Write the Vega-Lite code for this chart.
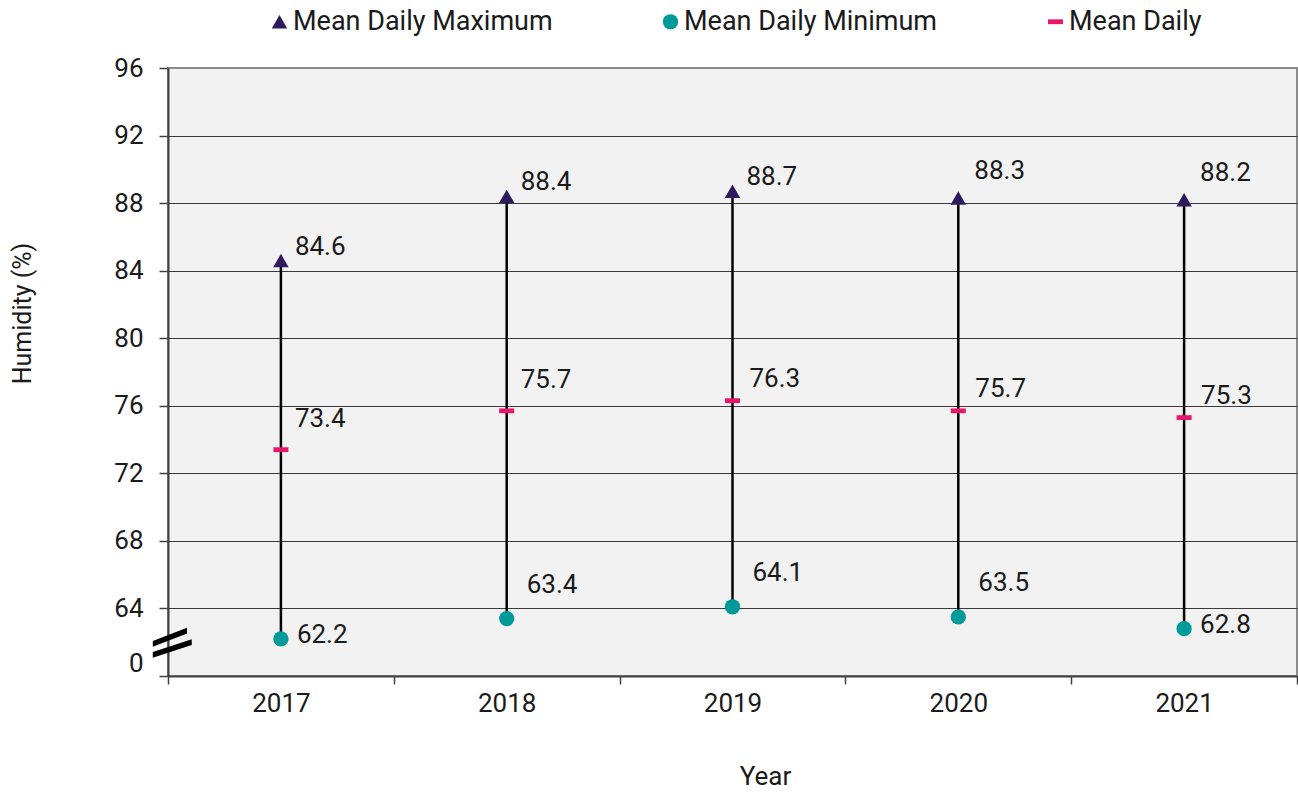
{
  "$schema": "https://vega.github.io/schema/vega-lite/v6.json",
  "autosize": {"type": "none"},
  "width": 1129,
  "height": 608,
  "padding": {"left": 168, "top": 68, "right": 1, "bottom": 118},
  "background": "white",
  "config": {
    "font": "Roboto",
    "view": {"fill": "#f2f2f2", "stroke": "#8c8c8c", "strokeWidth": 2},
    "axis": {
      "labelFont": "Roboto", "titleFont": "Roboto",
      "labelFontSize": 26, "titleFontSize": 26,
      "labelColor": "#1a1a1a", "titleColor": "#1a1a1a",
      "titleFontWeight": "normal",
      "domainColor": "#404040", "domainWidth": 2,
      "tickColor": "#404040", "tickWidth": 1.5, "tickSize": 8
    },
    "legend": {"labelFont": "Roboto", "labelFontSize": 27, "labelColor": "#1a1a1a", "labelLimit": 0}
  },
  "data": {
    "values": [
      {"Year": "2017", "Mean Daily Maximum": 84.6, "Mean Daily Minimum": 62.2, "Mean Daily": 73.4},
      {"Year": "2018", "Mean Daily Maximum": 88.4, "Mean Daily Minimum": 63.4, "Mean Daily": 75.7},
      {"Year": "2019", "Mean Daily Maximum": 88.7, "Mean Daily Minimum": 64.1, "Mean Daily": 76.3},
      {"Year": "2020", "Mean Daily Maximum": 88.3, "Mean Daily Minimum": 63.5, "Mean Daily": 75.7},
      {"Year": "2021", "Mean Daily Maximum": 88.2, "Mean Daily Minimum": 62.8, "Mean Daily": 75.3}
    ]
  },
  "encoding": {
    "x": {
      "field": "Year", "type": "ordinal",
      "scale": {"type": "band", "paddingInner": 0, "paddingOuter": 0},
      "axis": {"title": "Year", "labelAngle": 0, "tickBand": "extent", "labelPadding": 6, "titlePadding": 47, "titleX": 597, "grid": false}
    }
  },
  "layer": [
    {
      "mark": {"type": "rule", "color": "black", "strokeWidth": 2.5},
      "encoding": {
        "y": {
          "field": "Mean Daily Maximum", "type": "quantitative",
          "scale": {"domain": [60, 96], "nice": false, "zero": false},
          "axis": {
            "title": "Humidity (%)", "titleFontSize": 25, "titleY": 245,
            "values": [60, 64, 68, 72, 76, 80, 84, 88, 92, 96],
            "labelExpr": "datum.value == 60 ? '0' : datum.label",
            "labelOffset": {"condition": {"test": "datum.value == 60", "value": -13}, "value": 0},
            "labelPadding": 16, "tickSize": 9, "titlePadding": 78,
            "grid": true, "gridWidth": 1,
            "gridColor": {"condition": {"test": "datum.value == 96", "value": "#8c8c8c"}, "value": "#3a3a3a"}
          }
        },
        "y2": {"field": "Mean Daily Minimum"}
      }
    },
    {
      "transform": [{"fold": ["Mean Daily Maximum", "Mean Daily Minimum", "Mean Daily"], "as": ["series", "value"]}],
      "mark": {"type": "point", "filled": true, "opacity": 1, "strokeWidth": 0},
      "encoding": {
        "y": {"field": "value", "type": "quantitative"},
        "color": {
          "field": "series", "type": "nominal",
          "scale": {"domain": ["Mean Daily Maximum", "Mean Daily Minimum", "Mean Daily"], "range": ["#2d1b5e", "#009a9a", "#e6176b"]},
          "legend": {"title": null, "orient": "none", "direction": "horizontal", "legendX": 98, "legendY": -60, "columnPadding": 104, "labelOffset": 0}
        },
        "shape": {
          "field": "series", "type": "nominal",
          "scale": {"domain": ["Mean Daily Maximum", "Mean Daily Minimum", "Mean Daily"], "range": ["triangle-up", "circle", "M-1,-0.32H1V0.32H-1Z"]}
        },
        "size": {
          "field": "series", "type": "nominal",
          "scale": {"domain": ["Mean Daily Maximum", "Mean Daily Minimum", "Mean Daily"], "range": [240, 225, 210]}
        }
      }
    },
    {
      "transform": [{"filter": "datum.Year <= '2019'"}],
      "mark": {"type": "text", "align": "left", "baseline": "middle", "fontSize": 26, "color": "#1a1a1a", "dx": 14, "dy": -14},
      "encoding": {
        "y": {"field": "Mean Daily Maximum", "type": "quantitative"},
        "text": {"field": "Mean Daily Maximum", "type": "quantitative", "format": ".1f"}
      }
    },
    {
      "transform": [{"filter": "datum.Year > '2019'"}],
      "mark": {"type": "text", "align": "left", "baseline": "middle", "fontSize": 26, "color": "#1a1a1a", "dx": 16, "dy": -27},
      "encoding": {
        "y": {"field": "Mean Daily Maximum", "type": "quantitative"},
        "text": {"field": "Mean Daily Maximum", "type": "quantitative", "format": ".1f"}
      }
    },
    {
      "transform": [{"filter": "datum.Year <= '2018'"}],
      "mark": {"type": "text", "align": "left", "baseline": "middle", "fontSize": 26, "color": "#1a1a1a", "dx": 14, "dy": -31},
      "encoding": {
        "y": {"field": "Mean Daily", "type": "quantitative"},
        "text": {"field": "Mean Daily", "type": "quantitative", "format": ".1f"}
      }
    },
    {
      "transform": [{"filter": "datum.Year > '2018'"}],
      "mark": {"type": "text", "align": "left", "baseline": "middle", "fontSize": 26, "color": "#1a1a1a", "dx": 17, "dy": -22},
      "encoding": {
        "y": {"field": "Mean Daily", "type": "quantitative"},
        "text": {"field": "Mean Daily", "type": "quantitative", "format": ".1f"}
      }
    },
    {
      "transform": [{"filter": "datum.Year == '2017' || datum.Year == '2021'"}],
      "mark": {"type": "text", "align": "left", "baseline": "middle", "fontSize": 26, "color": "#1a1a1a", "dx": 16, "dy": -4},
      "encoding": {
        "y": {"field": "Mean Daily Minimum", "type": "quantitative"},
        "text": {"field": "Mean Daily Minimum", "type": "quantitative", "format": ".1f"}
      }
    },
    {
      "transform": [{"filter": "datum.Year != '2017' && datum.Year != '2021'"}],
      "mark": {"type": "text", "align": "left", "baseline": "middle", "fontSize": 26, "color": "#1a1a1a", "dx": 20, "dy": -34},
      "encoding": {
        "y": {"field": "Mean Daily Minimum", "type": "quantitative"},
        "text": {"field": "Mean Daily Minimum", "type": "quantitative", "format": ".1f"}
      }
    },
    {
      "data": {"values": [{"Year": "2017", "brk": 62.1}]},
      "mark": {"type": "point", "filled": true, "opacity": 1, "color": "black", "strokeWidth": 0, "clip": false, "size": 1444,
               "shape": "M-0.8,0.03L1,-0.67L1,-0.37L-0.8,0.33Z M-0.8,0.6L1.25,-0.07L1.25,0.23L-0.8,0.9Z"},
      "encoding": {
        "x": {"field": "Year", "type": "ordinal", "bandPosition": 0},
        "y": {"field": "brk", "type": "quantitative"}
      }
    }
  ]
}
